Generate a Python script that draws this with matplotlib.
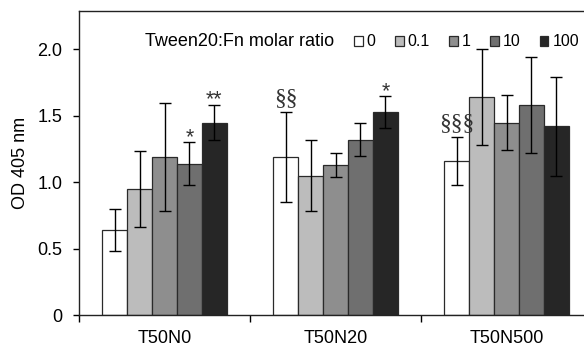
import matplotlib
matplotlib.use('Agg')
import matplotlib.pyplot as plt
import numpy as np

plt.rcParams['font.family'] = ['Liberation Sans', 'DejaVu Sans']

# data
groups = ['T50N0', 'T50N20', 'T50N500']
ratios = ['0', '0.1', '1', '10', '100']
means = [
    [0.64, 0.95, 1.19, 1.14, 1.45],   # T50N0
    [1.19, 1.05, 1.13, 1.32, 1.53],   # T50N20
    [1.16, 1.64, 1.45, 1.58, 1.42],   # T50N500
]
errs = [
    [0.155, 0.285, 0.41, 0.16, 0.135],
    [0.34, 0.27, 0.09, 0.125, 0.12],
    [0.18, 0.36, 0.21, 0.36, 0.37],
]
marks = [
    ['', '', '', '*', '**'],
    ['\u00a7\u00a7', '', '', '', '*'],
    ['\u00a7\u00a7\u00a7', '', '', '', ''],
]
colors = ['#ffffff', '#bcbcbc', '#8e8e8e', '#6f6f6f', '#262626']

fig = plt.figure(figsize=(5.84, 3.5), dpi=100)
ax = fig.add_axes([79 / 584, 35 / 350, 513 / 584, 304 / 350])

bw = 0.146
x = np.arange(len(groups)) + 0.5
handles = []
for j, r in enumerate(ratios):
    xs = x + (j - 2) * bw
    vals = [m[j] for m in means]
    ee = [e[j] for e in errs]
    b = ax.bar(xs, vals, width=bw, color=colors[j], edgecolor='#2a2a2a',
               linewidth=0.9, label=r, zorder=2)
    ax.errorbar(xs, vals, yerr=ee, fmt='none', ecolor='black', elinewidth=1,
                capsize=4.5, capthick=1, zorder=3)
    handles.append(b)
    for i in range(len(groups)):
        s = marks[i][j]
        if not s:
            continue
        if s.startswith('*'):
            # asterisks, sans font
            ax.annotate(s, (xs[i], vals[i] + ee[i]), xytext=(0, -1),
                        textcoords='offset pixels', ha='center', va='baseline',
                        fontsize=15.5, color='#333333')
        else:
            # section signs, serif font
            ax.annotate(s, (xs[i], vals[i] + ee[i]), xytext=(0, 8),
                        textcoords='offset pixels', ha='center', va='baseline',
                        fontsize=17, family=['Liberation Serif', 'DejaVu Serif'],
                        color='#333333')

ax.set_xlim(0, 3)
ax.set_ylim(0, 2.29)
ax.set_yticks([0, 0.5, 1.0, 1.5, 2.0])
ax.set_yticklabels(['0', '0.5', '1.0', '1.5', '2.0'], fontsize=13)
ax.set_xticks([0, 1, 2, 3])
ax.set_xticklabels([])
ax.set_xticks(x, minor=True)
ax.set_xticklabels(groups, minor=True, fontsize=13)
ax.tick_params(axis='x', which='minor', length=0, pad=11)
ax.tick_params(axis='x', which='major', length=5, width=1, direction='out')
ax.tick_params(axis='y', length=4, width=1, direction='out', pad=8)
for sp in ax.spines.values():
    sp.set_linewidth(1)
    sp.set_color('#222222')
ax.set_ylabel('OD 405 nm', fontsize=13, labelpad=6)

ax.text(145 / 584, 1 - 42 / 350, 'Tween20:Fn molar ratio', transform=fig.transFigure,
        ha='left', va='center', fontsize=13)
ax.legend(handles=handles, ncol=5, loc='center left',
          bbox_to_anchor=(354 / 584, 1 - 42 / 350), bbox_transform=fig.transFigure,
          frameon=False, fontsize=11.5, handlelength=0.55, handleheight=0.55,
          handletextpad=0.25, columnspacing=1.2, borderpad=0, borderaxespad=0)

fig.savefig('out.png', dpi=100)
